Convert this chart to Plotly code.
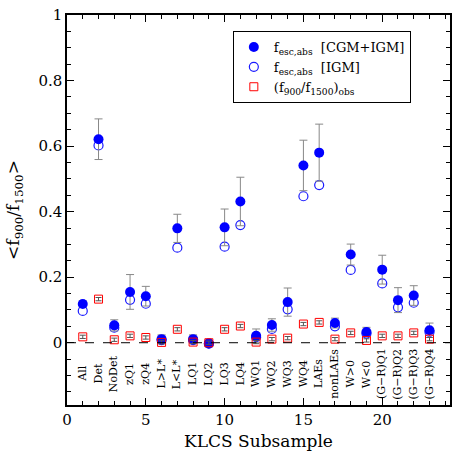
import plotly.graph_objects as go

x = list(range(1, 24))
labels = ["All", "Det", "NoDet", "zQ1", "zQ4", "L>L*", "L<L*", "LQ1", "LQ2", "LQ3", "LQ4",
          "WQ1", "WQ2", "WQ3", "WQ4", "LAEs", "nonLAEs", "W>0", "W<0",
          "(G\u2212R)Q1", "(G\u2212R)Q2", "(G\u2212R)Q3", "(G\u2212R)Q4"]

# f_esc,abs [CGM+IGM] and its error
fesc_cgm = [0.118, 0.621, 0.053, 0.155, 0.142, 0.011, 0.349, 0.011, -0.002, 0.352, 0.431,
            0.021, 0.054, 0.124, 0.541, 0.580, 0.060, 0.269, 0.033, 0.223, 0.130, 0.144, 0.038]
fesc_err = [0.010, 0.062, 0.017, 0.053, 0.030, 0.013, 0.043, 0.013, 0.005, 0.056, 0.074,
            0.021, 0.019, 0.043, 0.077, 0.087, 0.015, 0.032, 0.014, 0.044, 0.038, 0.030, 0.022]
# f_esc,abs [IGM]
fesc_igm = [0.097, 0.602, 0.046, 0.131, 0.119, 0.008, 0.290, 0.008, -0.003, 0.293, 0.359,
            0.017, 0.042, 0.102, 0.447, 0.481, 0.050, 0.222, 0.028, 0.181, 0.108, 0.122, 0.033]
# (f900/f1500)_obs
fobs = [0.018, 0.133, 0.009, 0.021, 0.016, 0.001, 0.041, 0.002, 0.000, 0.041, 0.051,
        0.002, 0.011, 0.014, 0.057, 0.062, 0.011, 0.030, 0.007, 0.021, 0.021, 0.030, 0.011]
fobs_err = [0.005] * 23

font = "DejaVu Serif"

fig = go.Figure()
fig.add_trace(go.Scatter(x=x, y=fesc_igm, mode="markers", legendrank=2,
                         name="f<sub>esc,abs</sub>  [IGM]",
                         marker=dict(symbol="circle-open", size=9, color="#1a1aff", line=dict(width=1.2))))
fig.add_trace(go.Scatter(x=x, y=fesc_cgm, mode="markers", legendrank=1,
                         name="f<sub>esc,abs</sub>  [CGM+IGM]",
                         error_y=dict(type="data", array=fesc_err, color="#888888", thickness=1, width=4),
                         marker=dict(symbol="circle", size=10, color="#0000ff")))
fig.add_trace(go.Scatter(x=x, y=fobs, mode="markers", legendrank=3,
                         name="(f<sub>900</sub>/f<sub>1500</sub>)<sub>obs</sub>",
                         error_y=dict(type="data", array=fobs_err, color="#555555", thickness=1, width=3),
                         marker=dict(symbol="square-open", size=8, color="#ff0000", line=dict(width=1))))

fig.add_hline(y=0, line=dict(color="black", width=1, dash="dash"))

for xi, lab in zip(x, labels):
    fig.add_annotation(x=xi, y=-0.095, text=lab, textangle=-90, showarrow=False,
                       font=dict(family=font, size=11, color="black"))

axis = dict(showline=True, linecolor="black", linewidth=1.5, mirror="allticks",
            ticks="inside", ticklen=7, tickwidth=1, tickcolor="black",
            showgrid=False, zeroline=False, automargin=False, ticklabeloverflow="allow",
            tickfont=dict(family=font, size=15, color="black"))
fig.update_xaxes(**axis, range=[0, 24.3], tick0=0, dtick=5,
                 minor=dict(ticks="inside", ticklen=4, dtick=1, tickcolor="black", showgrid=False),
                 title=dict(text="KLCS Subsample", font=dict(family=font, size=17, color="black"), standoff=8))
fig.update_yaxes(**axis, range=[-0.19, 1.0], tickvals=[0, 0.2, 0.4, 0.6, 0.8, 1],
                 ticktext=["0", "0.2", "0.4", "0.6", "0.8", "1"],
                 minor=dict(ticks="inside", ticklen=4, dtick=0.05, tick0=0, tickcolor="black", showgrid=False),
                 title=dict(text="&lt;f<sub>900</sub>/f<sub>1500</sub>&gt;",
                            font=dict(family=font, size=17, color="black"), standoff=14))

fig.update_layout(width=464, height=451, margin=dict(l=67, r=14, t=15, b=46),
                  plot_bgcolor="white", paper_bgcolor="white",
                  legend=dict(x=0.433, y=0.959, xanchor="left", yanchor="top",
                              bordercolor="black", borderwidth=1, bgcolor="white",
                              font=dict(family=font, size=13, color="black"),
                              itemwidth=30, tracegroupgap=0))

# drop the default 8px page margin so the figure fills the window
fig.write_html("out.html", config={"displayModeBar": False},
               post_script="document.body.style.margin='0px';")
